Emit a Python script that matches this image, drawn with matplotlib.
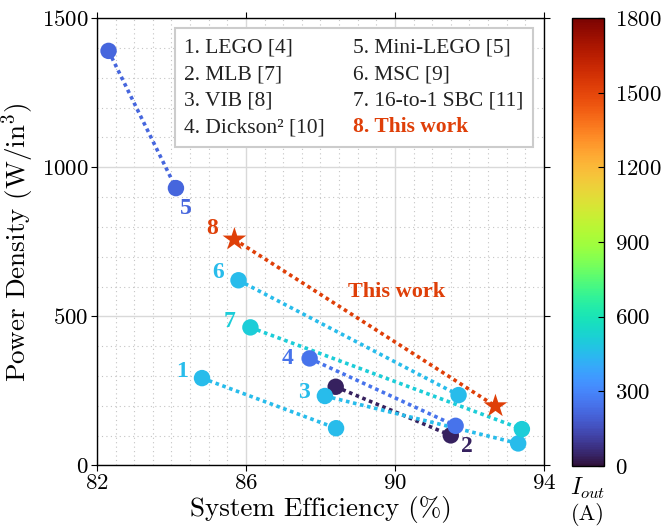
import matplotlib
matplotlib.use("Agg")
import matplotlib.pyplot as plt
from matplotlib.ticker import MultipleLocator
from matplotlib.colors import Normalize
import numpy as np

plt.rcParams['font.family'] = 'serif'
plt.rcParams['font.serif'] = ['cmr10']
plt.rcParams['mathtext.fontset'] = 'cm'
plt.rcParams['axes.formatter.use_mathtext'] = True

# Data
names = ["1. LEGO [4]", "2. MLB [7]", "3. VIB [8]", "4. Dickson² [10]",
         "5. Mini-LEGO [5]", "6. MSC [9]", "7. 16-to-1 SBC [11]", "8. This work"]
ids = ["1", "2", "3", "4", "5", "6", "7", "8"]
eff_a = [84.82, 88.41, 88.12, 87.71, 82.31, 85.80, 86.12, 85.69]
pd_a = [293, 264, 233, 359, 1390, 621, 463, 758]
eff_b = [88.42, 91.50, 93.31, 91.63, 84.12, 91.71, 93.41, 92.70]
pd_b = [125, 101, 74, 133, 930, 236, 122, 199]
iout = [450, 40, 450, 250, 215, 450, 510, 1520]
label_x = [84.28, 91.93, 87.55, 87.13, 84.40, 85.24, 85.55, 85.09]
label_y = [314, 63, 244, 358, 863, 647, 482, 796]
cbar_ticks = [0, 300, 600, 900, 1200, 1500, 1800]

fig = plt.figure(figsize=(6.63, 5.27), dpi=100)
ax = fig.add_axes([0.1463, 0.1167, 0.674, 0.849])
cax = fig.add_axes([0.8627, 0.1157, 0.0483, 0.8501])

cmap = plt.get_cmap('turbo')
norm = Normalize(vmin=0, vmax=1800)

for i in range(len(ids)):
    col = cmap(norm(iout[i]))
    ax.plot([eff_a[i], eff_b[i]], [pd_a[i], pd_b[i]], linestyle=(0, (1, 1)),
            linewidth=2.6, color=col, zorder=2)
    marker = '*' if ids[i] == '8' else 'o'
    ms = 320 if ids[i] == '8' else 140
    ax.scatter([eff_a[i], eff_b[i]], [pd_a[i], pd_b[i]], c=[iout[i], iout[i]],
               cmap=cmap, norm=norm, marker=marker, s=ms, edgecolors='none', zorder=3)
    ax.text(label_x[i], label_y[i], ids[i], color=col, fontsize=17, fontweight='bold',
            family='Liberation Serif', ha='center', va='center', zorder=4)

ax.text(90.05, 582, "This work", color=cmap(norm(iout[7])), fontsize=16, fontweight='bold',
        family='Liberation Serif', ha='center', va='center')

ax.set_xlim(82, 94)
ax.set_ylim(0, 1500)
ax.set_xticks([82, 86, 90, 94])
ax.set_yticks([0, 500, 1000, 1500])
ax.xaxis.set_minor_locator(MultipleLocator(0.5))
ax.yaxis.set_minor_locator(MultipleLocator(100))
ax.grid(which='major', color='#d9d9d9', linewidth=1.0, linestyle='-', zorder=0)
ax.grid(which='minor', color='#c4c4c4', linewidth=0.8, linestyle=(0, (1, 3)), zorder=0)
ax.set_axisbelow(True)
ax.tick_params(which='major', direction='out', length=4, labelsize=16.5, pad=2,
               top=True, right=True, labeltop=False, labelright=False)
ax.tick_params(which='minor', length=0)
for s in ax.spines.values():
    s.set_linewidth(1.0)

ax.set_xlabel("System Efficiency (%)", fontsize=19.5, labelpad=2)
ax.set_ylabel("Power Density (W/in$^3$)", fontsize=19.5, labelpad=4)

handles = [plt.Line2D([], [], linestyle='none') for _ in names]
leg = ax.legend(handles, names, ncol=2, loc='upper right', bbox_to_anchor=(0.976, 0.978),
                borderaxespad=0,
                prop={'family': 'Liberation Serif', 'size': 15.5}, handlelength=0,
                handletextpad=0, columnspacing=1.3, labelspacing=0.3,
                fancybox=False, edgecolor='#cccccc', framealpha=1, borderpad=0.45)
leg.get_frame().set_linewidth(1.5)
for t in leg.get_texts():
    t.set_color('#222222')
leg.get_texts()[-1].set_color(cmap(norm(iout[7])))
leg.get_texts()[-1].set_fontweight('bold')

cb = fig.colorbar(plt.cm.ScalarMappable(norm=norm, cmap=cmap), cax=cax)
cb.set_ticks(cbar_ticks)
cb.ax.tick_params(labelsize=16.5, direction='in', length=4, pad=8)
cb.outline.set_linewidth(1.0)

fig.text(0.8868, 0.074, "$I_{out}$", fontsize=17, ha='center', va='center')
fig.text(0.8868, 0.023, "(A)", fontsize=16, ha='center', va='center')

fig.savefig("out.png", dpi=100)
